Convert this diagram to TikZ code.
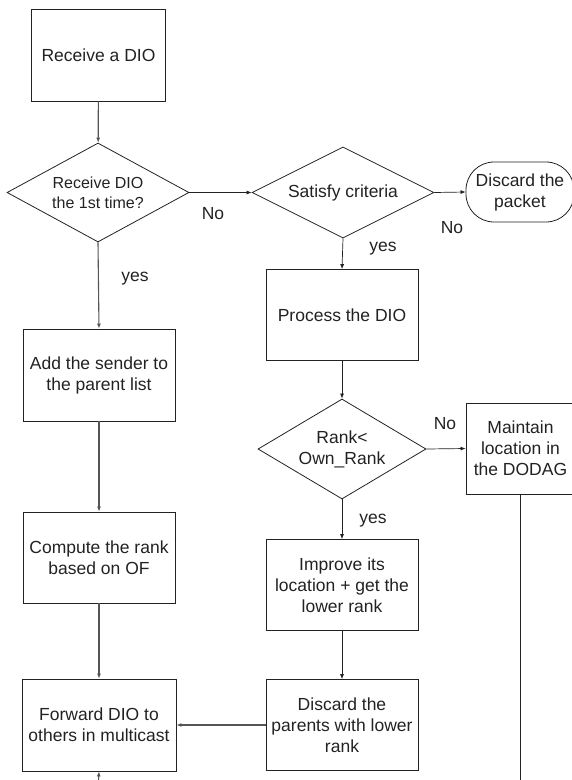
\documentclass[tikz,border=0pt]{standalone}
\usepackage{fontspec}
\setmainfont{Liberation Sans}
\usetikzlibrary{shapes.geometric,arrows.meta}
\definecolor{ink}{HTML}{222222}
\definecolor{lineL}{HTML}{555555}
\tikzset{
  box/.style={draw=ink, line width=0.8pt, rectangle, inner sep=0pt, align=center, text=ink, font=\fontsize{17.5}{21}\selectfont},
  dia/.style={draw=ink, line width=0.8pt, diamond, aspect=1.8, inner sep=0pt, align=center, text=ink, font=\fontsize{17.5}{21}\selectfont},
  term/.style={draw=ink, line width=0.8pt, rectangle, rounded corners=28pt, inner sep=0pt, align=center, text=ink, font=\fontsize{17.5}{21}\selectfont},
  lbl/.style={inner sep=0pt, text=ink, font=\fontsize{17.5}{21}\selectfont},
  arr/.style={draw=ink, line width=0.7pt, -{Latex[length=5pt,width=4pt]}},
  arrL/.style={draw=lineL, line width=1.1pt, -{Latex[length=5pt,width=4pt]}},
  plain/.style={draw=ink, line width=0.7pt}
}
\begin{document}
\begin{tikzpicture}[x=1pt,y=-1pt]
\useasboundingbox (0,0) rectangle (572,780);
\clip (0,0) rectangle (572,780);
% nodes
\node[box, minimum width=134pt, minimum height=92pt] (recv) at (98.5,55) {Receive a DIO};
\node[dia, minimum width=182pt, minimum height=99pt, font=\fontsize{16}{20}\selectfont] (d1) at (98,192.5) {Receive DIO\\the 1st time?};
\node[dia, minimum width=182pt, minimum height=91pt] (d2) at (343,192.5) {Satisfy criteria};
\node[term, minimum width=108pt, minimum height=60pt] (disc) at (520,192) {Discard the\\packet};
\node[box, minimum width=152pt, minimum height=91pt] (proc) at (342,315) {Process the DIO};
\node[dia, minimum width=168pt, minimum height=100pt] (d3) at (342,449) {Rank<\\Own\_Rank};
\node[box, minimum width=109pt, minimum height=91pt] (maint) at (520.5,448.5) {Maintain\\location in\\the DODAG};
\node[box, minimum width=152pt, minimum height=91pt] (impr) at (342,585) {Improve its\\location + get the\\lower rank};
\node[box, minimum width=152pt, minimum height=91pt] (dpar) at (342,725) {Discard the\\parents with lower\\rank};
\node[box, minimum width=152pt, minimum height=92pt] (add) at (99,375) {Add the sender to\\the parent list};
\node[box, minimum width=152pt, minimum height=91pt] (comp) at (99,557.5) {Compute the rank\\based on OF};
\node[box, minimum width=154pt, minimum height=92pt] (fwd) at (99,725) {Forward DIO to\\others in multicast};
% labels
\node[lbl] (no1) at (213,214) {No};
\node[lbl] (no2) at (452,228) {No};
\node[lbl] (no3) at (445,424) {No};
\node[lbl] (yes1) at (135,279) {yes};
\node[lbl] (yes2) at (383,249) {yes};
\node[lbl] (yes3) at (373,521) {yes};
% coordinates for free ends
\coordinate (mend) at (520.5,790);
\coordinate (fin) at (98,790);
% connectors
\draw[arrL] (recv) -- (d1);
\draw[arr] (d1.east) -- (d2.west);
\draw[arr] (d2.east) -- (disc.west);
\draw[arr] (d2.south) -- (proc.north);
\draw[arr] (proc) -- (d3);
\draw[arr] (d3.east) -- (maint.west);
\draw[arr] (d3.south) -- (impr.north);
\draw[arr] (impr) -- (dpar);
\draw[arrL] (dpar.west) -- (fwd.east);
\draw[arrL] (d1.south) -- (add.north);
\draw[arrL] (add) -- (comp);
\draw[arrL] (comp) -- (fwd);
\draw[plain] (maint.south) -- (mend);
\draw[arrL] (fin) -- (fwd.south);
\end{tikzpicture}
\end{document}
